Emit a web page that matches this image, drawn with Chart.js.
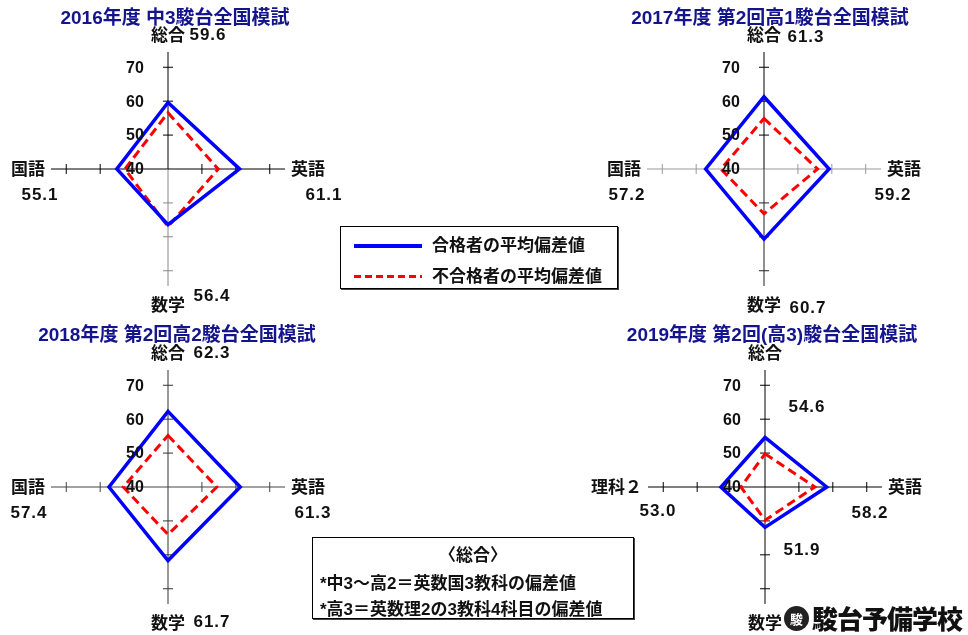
<!DOCTYPE html>
<html>
<head>
<meta charset="utf-8">
<script src="https://cdn.jsdelivr.net/npm/chart.js@4/dist/chart.umd.min.js"></script>
<style>
  html, body { margin: 0; padding: 0; background: #fff; }
  #page { position: relative; width: 968px; height: 635px; overflow: hidden; font-family: 'Liberation Sans', 'Noto Sans CJK JP', sans-serif; }
  canvas { position: absolute; }
  .title { position: absolute; width: 420px; text-align: center; color: #14148c; font-weight: bold; font-size: 19px; line-height: 22px; white-space: nowrap; }
  .box { position: absolute; border: 1px solid #000; box-shadow: 1px 1px 0 #444; background: #fff; font-weight: bold; font-size: 17px; color: #111; }
  .box span { position: absolute; white-space: nowrap; line-height: 20px; }
  .sw { position: absolute; left: 13px; width: 68px; }
  #logo { position: absolute; left: 812px; top: 603px; font: 900 26px 'Noto Sans CJK JP'; color: #111; line-height: 30px; letter-spacing: -1px; }
  #mark { position: absolute; left: 784px; top: 606px; width: 25px; height: 25px; border-radius: 50%; background: #222; color: #fff; font: bold 13px 'Noto Sans CJK JP'; text-align: center; line-height: 25px; }
</style>
</head>
<body>
<div id="page">
  <canvas id="c2016"></canvas>
  <canvas id="c2017"></canvas>
  <canvas id="c2018"></canvas>
  <canvas id="c2019"></canvas>

  <div class="title" style="left:-35px;top:7px">2016年度 中3駿台全国模試</div>
  <div class="title" style="left:560px;top:7px">2017年度 第2回高1駿台全国模試</div>
  <div class="title" style="left:-33px;top:324px">2018年度 第2回高2駿台全国模試</div>
  <div class="title" style="left:562px;top:324px">2019年度 第2回(高3)駿台全国模試</div>

  <div class="box" style="left:340px;top:226px;width:276px;height:61px">
    <div class="sw" style="top:17px;height:4px;background:#0000ff"></div>
    <span style="left:91px;top:9px">合格者の平均偏差値</span>
    <div class="sw" style="top:48px;height:3px;background:repeating-linear-gradient(90deg,#ff0000 0 7px,transparent 7px 11px)"></div>
    <span style="left:91px;top:40px">不合格者の平均偏差値</span>
  </div>

  <div class="box" style="left:312px;top:537px;width:320px;height:80px">
    <span style="left:0;width:320px;text-align:center;top:8px">〈総合〉</span>
    <span style="left:7px;top:36px">*中3～高2＝英数国3教科の偏差値</span>
    <span style="left:7px;top:62px">*高3＝英数理2の3教科4科目の偏差値</span>
  </div>

  <div id="mark">駿</div>
  <div id="logo">駿台予備学校</div>
</div>

<script>
// shared scale
const tickValues = [40, 50, 60, 70];
const scaleMin = 40;
const scaleMax = 74.5;

// 2016 中3
const subjects2016 = ['総合', '英語', '数学', '国語'];
const passed2016 = [59.6, 61.1, 56.4, 55.1];
const failed2016 = [56.6, 54.8, 57.0, 52.7];

// 2017 高1
const subjects2017 = ['総合', '英語', '数学', '国語'];
const passed2017 = [61.3, 59.2, 60.7, 57.2];
const failed2017 = [54.9, 55.8, 53.2, 52.7];

// 2018 高2
const subjects2018 = ['総合', '英語', '数学', '国語'];
const passed2018 = [62.3, 61.3, 61.7, 57.4];
const failed2018 = [55.2, 54.4, 54.0, 53.2];

// 2019 高3
const subjects2019 = ['総合', '英語', '数学', '理科２'];
const passed2019 = [54.6, 58.2, 51.9, 53.0];
const failed2019 = [49.8, 54.7, 49.8, 47.1];

const NUM_FONT = "'Liberation Sans', 'Noto Sans CJK JP'";
const JP_FONT = "'Noto Sans CJK JP'";

// where each radar sits on the page and where its value labels go (offsets from centre)
const layouts = {
    c2016: {
        left: 0, top: 0, width: 484, height: 318, cx: 168, cy: 169, radius: 117,
        axisColors: ['#000', '#000', '#888', '#000'],
        valueOffsets: [[40, -134], [156, 26], [44, 127], [-128, 26]]
    },
    c2017: {
        left: 484, top: 0, width: 484, height: 318, cx: 764, cy: 169, radius: 117,
        axisColors: ['#000', '#999', '#222', '#999'],
        valueOffsets: [[42, -132], [129, 26], [44, 139], [-137, 26]]
    },
    c2018: {
        left: 0, top: 318, width: 484, height: 317, cx: 168, cy: 487, radius: 117,
        axisColors: ['#333', '#444', '#333', '#444'],
        valueOffsets: [[44, -134], [145, 26], [44, 135], [-139, 26]]
    },
    c2019: {
        left: 484, top: 318, width: 484, height: 317, cx: 765, cy: 487, radius: 117,
        axisColors: ['#000', '#000', '#000', '#000'],
        valueOffsets: [[42, -80], [105, 26], [37, 63], [-107, 24]]
    }
};

// tick marks, tick labels, subject names and the values of the passing group
const radarDecor = {
    id: 'radarDecor',
    beforeDatasetsDraw(chart, args, opts) {
        const r = chart.scales.r;
        const ctx = chart.ctx;
        const n = chart.data.labels.length;
        ctx.save();
        ctx.lineWidth = 1;
        ctx.font = 'bold 16px ' + NUM_FONT;
        const zero = r.getPointPositionForValue(0, scaleMin);
        const lblW = ctx.measureText(String(scaleMin)).width;
        r.ticks.forEach(t => {
            if (t.value <= scaleMin) return;
            for (let i = 0; i < n; i++) {
                const p = r.getPointPositionForValue(i, t.value);
                // skip the mark that sits under the "40" label
                if (Math.abs(p.y - zero.y) < 2 && Math.abs(p.x - (zero.x - 33)) < lblW / 2 + 2) continue;
                const a = r.getIndexAngle(i);
                const nx = Math.cos(a), ny = Math.sin(a);
                ctx.strokeStyle = opts.axisColors[i];
                ctx.beginPath();
                ctx.moveTo(p.x - nx * 5, p.y - ny * 5);
                ctx.lineTo(p.x + nx * 5, p.y + ny * 5);
                ctx.stroke();
            }
        });
        ctx.restore();
    },
    afterDatasetsDraw(chart, args, opts) {
        const r = chart.scales.r;
        const ctx = chart.ctx;
        const labels = chart.data.labels;
        const values = chart.data.datasets[0].data;
        ctx.save();
        ctx.fillStyle = '#111';
        ctx.textBaseline = 'middle';

        // tick labels to the left of the upper axis
        ctx.font = 'bold 16px ' + NUM_FONT;
        ctx.textAlign = 'center';
        r.ticks.forEach(t => {
            const p = r.getPointPositionForValue(0, t.value);
            ctx.fillText(t.label, p.x - 33, p.y + 1);
        });

        // subject names beyond the axis ends
        ctx.font = 'bold 17px ' + JP_FONT;
        labels.forEach((lab, i) => {
            const p = r.getPointPositionForValue(i, scaleMax);
            if (i === 0) { ctx.textAlign = 'center'; ctx.fillText(lab, p.x, p.y - 17); }
            if (i === 1) { ctx.textAlign = 'left'; ctx.fillText(lab, p.x + 6, p.y); }
            if (i === 2) { ctx.textAlign = 'center'; ctx.fillText(lab, p.x, p.y + 19); }
            if (i === 3) { ctx.textAlign = 'right'; ctx.fillText(lab, p.x - 6, p.y); }
        });

        // values
        ctx.font = 'bold 17px ' + NUM_FONT;
        ctx.textAlign = 'center';
        ctx.letterSpacing = '1px';
        values.forEach((v, i) => {
            const off = opts.valueOffsets[i];
            ctx.fillText(v.toFixed(1), r.xCenter + off[0], r.yCenter + off[1]);
        });
        ctx.restore();
    }
};

function makeRadar(id, subjects, passed, failed) {
    const L = layouts[id];
    const el = document.getElementById(id);
    el.style.left = L.left + 'px';
    el.style.top = L.top + 'px';
    el.style.width = L.width + 'px';
    el.style.height = L.height + 'px';
    el.width = L.width;
    el.height = L.height;

    const padLeft = L.cx - L.radius - L.left;
    const padTop = L.cy - L.radius - L.top;
    const padRight = L.left + L.width - (L.cx + L.radius);
    const padBottom = L.top + L.height - (L.cy + L.radius);

    return new Chart(el, {
        type: 'radar',
        data: {
            labels: subjects,
            datasets: [{
                label: '合格者の平均偏差値',
                data: passed,
                borderColor: '#0000ff',
                borderWidth: 3.5,
                backgroundColor: 'transparent',
                fill: false,
                pointRadius: 0,
                tension: 0,
                borderJoinStyle: 'miter'
            }, {
                label: '不合格者の平均偏差値',
                data: failed,
                borderColor: '#ff0000',
                borderWidth: 3,
                borderDash: [9, 5],
                backgroundColor: 'transparent',
                fill: false,
                pointRadius: 0,
                tension: 0
            }]
        },
        options: {
            responsive: false,
            animation: false,
            layout: { padding: { left: padLeft, top: padTop, right: padRight, bottom: padBottom } },
            plugins: {
                legend: { display: false },
                tooltip: { enabled: false },
                radarDecor: { axisColors: L.axisColors, valueOffsets: L.valueOffsets }
            },
            scales: {
                r: {
                    min: scaleMin,
                    max: scaleMax,
                    afterBuildTicks: scale => { scale.ticks = tickValues.map(v => ({ value: v })); },
                    ticks: { display: false },
                    grid: { display: false },
                    angleLines: {
                        display: true,
                        lineWidth: 1,
                        color: c => L.axisColors[c.index]
                    },
                    pointLabels: { display: false }
                }
            }
        },
        plugins: [radarDecor]
    });
}

makeRadar('c2016', subjects2016, passed2016, failed2016);
makeRadar('c2017', subjects2017, passed2017, failed2017);
makeRadar('c2018', subjects2018, passed2018, failed2018);
makeRadar('c2019', subjects2019, passed2019, failed2019);
</script>
</body>
</html>
